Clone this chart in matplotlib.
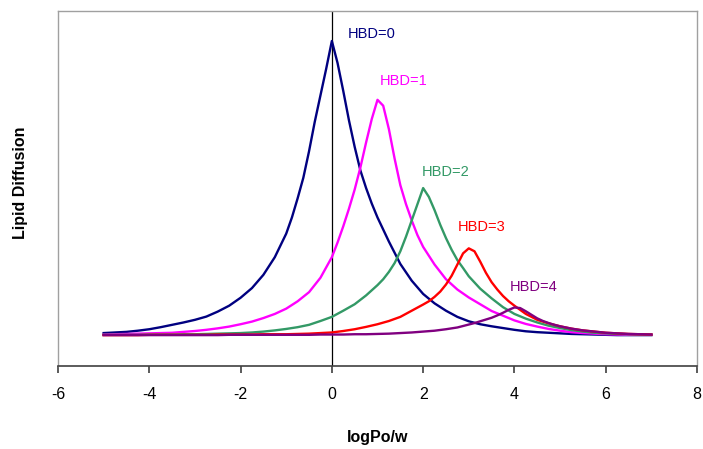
import matplotlib
matplotlib.use("Agg")
import matplotlib.pyplot as plt

plt.rcParams['font.family'] = ['Liberation Sans', 'DejaVu Sans']

# ---- data (x = logPo/w, y = lipid diffusion, arbitrary units) ----
x0 = [-5.0, -4.75, -4.5, -4.25, -4.0, -3.75, -3.5, -3.25, -3.0, -2.75, -2.5, -2.25, -2.0, -1.75,
      -1.5, -1.25, -1.0, -0.875, -0.75, -0.625, -0.5, -0.375, -0.25, -0.125, 0.0, 0.125, 0.25,
      0.375, 0.5, 0.625, 0.75, 0.875, 1.0, 1.25, 1.5, 1.75, 2.0, 2.25, 2.5, 2.75, 3.0, 3.25, 3.5,
      3.75, 4.0, 4.25, 4.5, 4.75, 5.0, 5.25, 5.5, 5.75, 6.0, 6.25, 6.5, 6.75, 7.0]
hbd0 = [0.007, 0.009, 0.011, 0.015, 0.020, 0.027, 0.035, 0.043, 0.052, 0.063, 0.080, 0.100, 0.127,
        0.160, 0.205, 0.265, 0.345, 0.400, 0.465, 0.535, 0.625, 0.725, 0.815, 0.905, 1.000, 0.925,
        0.830, 0.730, 0.640, 0.560, 0.500, 0.447, 0.400, 0.318, 0.242, 0.185, 0.140, 0.108, 0.083,
        0.062, 0.047, 0.037, 0.030, 0.024, 0.018, 0.013, 0.010, 0.008, 0.006, 0.004, 0.003, 0.002,
        0.001, 0.000, 0.000, 0.000, 0.000]

x1 = [-5.0, -4.75, -4.5, -4.25, -4.0, -3.75, -3.5, -3.25, -3.0, -2.75, -2.5, -2.25, -2.0, -1.75,
      -1.5, -1.25, -1.0, -0.75, -0.5, -0.25, 0.0, 0.125, 0.25, 0.375, 0.5, 0.625, 0.75, 0.875, 1.0,
      1.125, 1.25, 1.375, 1.5, 1.625, 1.75, 1.875, 2.0, 2.25, 2.5, 2.75, 3.0, 3.25, 3.5, 3.75, 4.0,
      4.25, 4.5, 4.75, 5.0, 5.25, 5.5, 5.75, 6.0, 6.25, 6.5, 6.75, 7.0]
hbd1 = [0.002, 0.003, 0.004, 0.005, 0.006, 0.007, 0.008, 0.011, 0.014, 0.018, 0.023, 0.029, 0.037,
        0.046, 0.058, 0.072, 0.090, 0.115, 0.146, 0.195, 0.265, 0.315, 0.370, 0.430, 0.495, 0.570,
        0.655, 0.735, 0.800, 0.780, 0.700, 0.600, 0.510, 0.445, 0.390, 0.340, 0.300, 0.240, 0.190,
        0.155, 0.128, 0.105, 0.082, 0.066, 0.050, 0.038, 0.029, 0.021, 0.015, 0.010, 0.007, 0.005,
        0.003, 0.002, 0.001, 0.001, 0.001]

x2 = [-5.0, -4.75, -4.5, -4.25, -4.0, -3.75, -3.5, -3.25, -3.0, -2.75, -2.5, -2.25, -2.0, -1.75,
      -1.5, -1.25, -1.0, -0.75, -0.5, -0.25, 0.0, 0.25, 0.5, 0.75, 1.0, 1.125, 1.25, 1.375, 1.5,
      1.625, 1.75, 1.875, 2.0, 2.125, 2.25, 2.375, 2.5, 2.625, 2.75, 2.875, 3.0, 3.25, 3.5, 3.75,
      4.0, 4.25, 4.5, 4.75, 5.0, 5.25, 5.5, 5.75, 6.0, 6.25, 6.5, 6.75, 7.0]
hbd2 = [0.001, 0.001, 0.001, 0.001, 0.002, 0.002, 0.002, 0.003, 0.003, 0.004, 0.005, 0.006, 0.007,
        0.009, 0.012, 0.016, 0.021, 0.027, 0.035, 0.048, 0.062, 0.083, 0.105, 0.135, 0.170, 0.190,
        0.215, 0.245, 0.285, 0.335, 0.390, 0.445, 0.500, 0.470, 0.425, 0.375, 0.330, 0.290, 0.255,
        0.228, 0.200, 0.158, 0.125, 0.095, 0.072, 0.056, 0.043, 0.032, 0.024, 0.017, 0.012, 0.008,
        0.006, 0.004, 0.003, 0.002, 0.002]

x3 = [-5.0, -4.75, -4.5, -4.25, -4.0, -3.75, -3.5, -3.25, -3.0, -2.75, -2.5, -2.25, -2.0, -1.75,
      -1.5, -1.25, -1.0, -0.75, -0.5, -0.25, 0.0, 0.25, 0.5, 0.75, 1.0, 1.25, 1.5, 1.75, 2.0,
      2.125, 2.25, 2.375, 2.5, 2.625, 2.75, 2.875, 3.0, 3.125, 3.25, 3.375, 3.5, 3.625, 3.75,
      3.875, 4.0, 4.25, 4.5, 4.75, 5.0, 5.25, 5.5, 5.75, 6.0, 6.25, 6.5, 6.75, 7.0]
hbd3 = [0.000, 0.000, 0.000, 0.000, 0.001, 0.001, 0.001, 0.001, 0.001, 0.001, 0.002, 0.002, 0.002,
        0.002, 0.003, 0.003, 0.003, 0.004, 0.005, 0.007, 0.009, 0.014, 0.020, 0.028, 0.037, 0.048,
        0.062, 0.083, 0.104, 0.115, 0.130, 0.148, 0.172, 0.202, 0.240, 0.278, 0.295, 0.285, 0.250,
        0.212, 0.180, 0.155, 0.133, 0.115, 0.100, 0.072, 0.052, 0.040, 0.030, 0.022, 0.016, 0.012,
        0.008, 0.006, 0.004, 0.003, 0.002]

x4 = [-5.0, -4.75, -4.5, -4.25, -4.0, -3.75, -3.5, -3.25, -3.0, -2.75, -2.5, -2.25, -2.0, -1.75,
      -1.5, -1.25, -1.0, -0.75, -0.5, -0.25, 0.0, 0.25, 0.5, 0.75, 1.0, 1.25, 1.5, 1.75, 2.0, 2.25,
      2.5, 2.75, 3.0, 3.125, 3.25, 3.375, 3.5, 3.625, 3.75, 3.875, 4.0, 4.125, 4.25, 4.375, 4.5,
      4.625, 4.75, 4.875, 5.0, 5.25, 5.5, 5.75, 6.0, 6.25, 6.5, 6.75, 7.0]
hbd4 = [0.000, 0.000, 0.000, 0.000, 0.000, 0.000, 0.000, 0.000, 0.000, 0.000, 0.000, 0.001, 0.001,
        0.001, 0.001, 0.001, 0.001, 0.001, 0.001, 0.002, 0.002, 0.002, 0.003, 0.003, 0.004, 0.005,
        0.007, 0.009, 0.012, 0.015, 0.020, 0.026, 0.036, 0.041, 0.047, 0.053, 0.059, 0.067, 0.076,
        0.086, 0.094, 0.092, 0.081, 0.069, 0.057, 0.048, 0.041, 0.035, 0.030, 0.022, 0.016, 0.012,
        0.008, 0.006, 0.004, 0.003, 0.002]

xs = [x0, x1, x2, x3, x4]
series = [hbd0, hbd1, hbd2, hbd3, hbd4]
labels = ["HBD=0", "HBD=1", "HBD=2", "HBD=3", "HBD=4"]
colors = ["#000080", "#FF00FF", "#339966", "#FF0000", "#800080"]
label_pos = [(0.35, 1.024), (1.05, 0.864), (1.97, 0.554), (2.76, 0.367), (3.9, 0.165)]
xticks = [-6, -4, -2, 0, 2, 4, 6, 8]

fig = plt.figure(figsize=(7.03, 4.49), dpi=100)
ax = fig.add_axes([58/703, 1-366/449, (697-58)/703, (366-11)/449])

ax.axvline(0, color="black", lw=0.9, zorder=1)
for xv, ys, c in zip(xs, series, colors):
    ax.plot(xv, ys, color=c, lw=1.7, zorder=2, solid_joinstyle="round")
for lab, c, (tx, ty) in zip(labels, colors, label_pos):
    ax.text(tx, ty, lab, color=c, fontsize=10.5, ha="left", va="center")

ax.set_xlim(-6, 8)
ax.set_ylim(-0.105, 1.102)
ax.set_xticks(xticks)
ax.set_xticklabels([str(t) for t in xticks], fontsize=11.5)
ax.set_yticks([])
ax.tick_params(axis="x", direction="out", length=5, width=1.2, color="#404040", pad=10)
for s in ["left", "top", "right"]:
    ax.spines[s].set_color("#a0a0a0")
    ax.spines[s].set_linewidth(1.0)
ax.spines["bottom"].set_color("#404040")
ax.spines["bottom"].set_linewidth(1.2)

ax.set_xlabel("logPo/w", fontsize=11.5, fontweight="bold", labelpad=20)
fig.text(21/703, 1-183/449, "Lipid Diffusion", rotation=90, fontsize=11.5,
         fontweight="bold", ha="center", va="center")

fig.savefig("out.png", dpi=100)
